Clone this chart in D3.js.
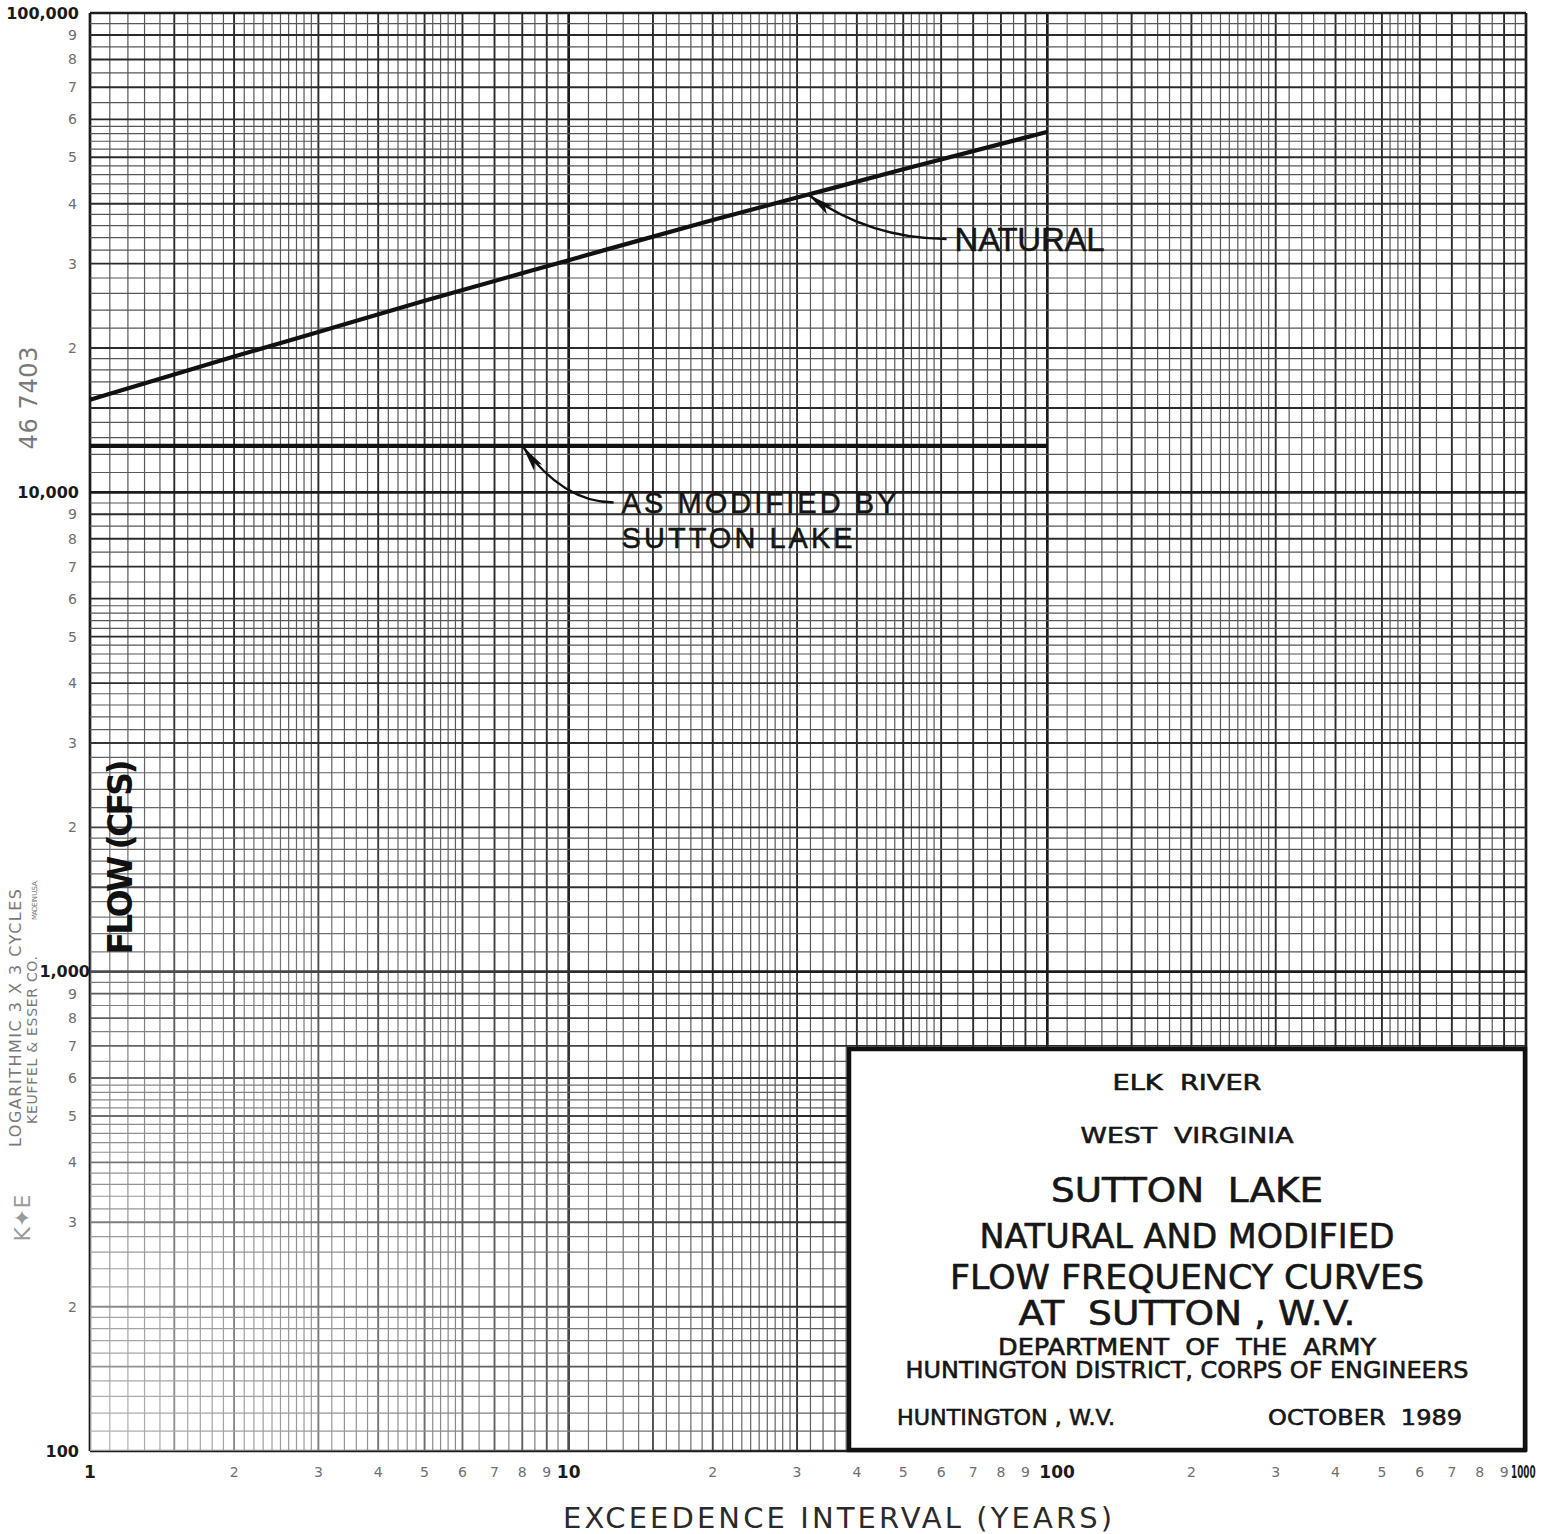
<!DOCTYPE html>
<html>
<head>
<meta charset="utf-8">
<script src="https://cdn.jsdelivr.net/npm/d3@7"></script>
<style>
  body { margin: 0; background: #fff; }
  svg { display: block; }
  text { white-space: pre; }
</style>
</head>
<body>
<svg id="chart" width="1541" height="1534"></svg>
<script>
// Exceedence interval (years) and flow (cfs)
const intervals    = [1, 2, 3, 5, 10, 20, 30, 50, 100];
const naturalFlow  = [15600, 19200, 21600, 25100, 30500, 37000, 41200, 47200, 56500];
const modifiedInterval = [1, 100];
const modifiedFlow     = [12500, 12500];

// Log cycles of the 3 x 3 cycle paper
const xDomain = [1, 1000];
const yDomain = [100, 100000];
// Ruling inside one cycle: [from, to, step]
const xRuling = [[1, 3, 0.1], [3, 6, 0.2], [6, 10, 0.5]];
const yRuling = [[1, 2, 0.1], [2, 6, 0.2], [6, 10, 0.5]];

// Tick labels
const xCycleLabels = ["1", "10", "100", "1000"];
const yCycleLabels = ["100", "1,000", "10,000", "100,000"];
const digitLabels  = ["2", "3", "4", "5", "6", "7", "8", "9"];

// Curve annotations: arrow tip on the curve, label anchor
const annotations = [
  { lines: ["NATURAL"], tip: [31.6, 41800], at: [64, 31900], size: 33, widths: [150] },
  { lines: ["AS MODIFIED BY", "SUTTON LAKE"], tip: [8.0, 12500], at: [12.9, 9060], size: 29, widths: [275, 231] }
];

// Title block text
const titleLines = [
  { text: "ELK  RIVER", size: 22, width: 149, dy: 33 },
  { text: "WEST  VIRGINIA", size: 22, width: 213, dy: 86 },
  { text: "SUTTON  LAKE", size: 33, width: 272, dy: 141 },
  { text: "NATURAL AND MODIFIED", size: 33, width: 415, dy: 187 },
  { text: "FLOW FREQUENCY CURVES", size: 33, width: 474, dy: 228 },
  { text: "AT  SUTTON , W.V.", size: 33, width: 337, dy: 264 },
  { text: "DEPARTMENT  OF  THE  ARMY", size: 23, width: 378, dy: 298 },
  { text: "HUNTINGTON DISTRICT, CORPS OF ENGINEERS", size: 23, width: 563, dy: 321 }
];
const footerLeft  = { text: "HUNTINGTON , W.V.", size: 22, width: 218 };
const footerRight = { text: "OCTOBER  1989", size: 22, width: 194 };

const plot = { left: 90, right: 1526, top: 13, bottom: 1451 };
const x = d3.scaleLog().domain(xDomain).range([plot.left, plot.right]);
const y = d3.scaleLog().domain(yDomain).range([plot.bottom, plot.top]);

const svg = d3.select("#chart");
svg.append("rect").attr("width", 1541).attr("height", 1534).attr("fill", "#fff");

// ---- grid ruling ----
function rulingValues(domain, ruling) {
  const out = [];
  for (let c = domain[0]; c < domain[1] - 1e-9; c *= 10) {
    ruling.forEach(([a, b, s]) => {
      const n = Math.round((b - a) / s);
      for (let i = 0; i < n; i++) {
        const m = +(a + i * s).toFixed(2);
        out.push({ v: c * m, m });
      }
    });
  }
  out.push({ v: domain[1], m: 1 });
  return out;
}
const rank = m => (m === 1 ? "decade" : (Number.isInteger(m) || m === 1.5) ? "major" : "minor");
const gridStyle = {
  minor:  { stroke: "#575757", width: 1.2 },
  major:  { stroke: "#2b2b2b", width: 1.9 },
  decade: { stroke: "#1c1c1c", width: 2.7 }
};
const order = { minor: 0, major: 1, decade: 2 };

const grid = svg.append("g");
const xr = rulingValues(xDomain, xRuling).map(d => ({ ...d, r: rank(d.m) })).sort((a, b) => order[a.r] - order[b.r]);
const yr = rulingValues(yDomain, yRuling).map(d => ({ ...d, r: rank(d.m) })).sort((a, b) => order[a.r] - order[b.r]);

grid.selectAll("line.v").data(xr).join("line")
  .attr("x1", d => x(d.v)).attr("x2", d => x(d.v))
  .attr("y1", plot.top).attr("y2", plot.bottom)
  .attr("stroke", d => gridStyle[d.r].stroke)
  .attr("stroke-width", d => gridStyle[d.r].width);
grid.selectAll("line.h").data(yr).join("line")
  .attr("y1", d => y(d.v)).attr("y2", d => y(d.v))
  .attr("x1", plot.left).attr("x2", plot.right)
  .attr("stroke", d => gridStyle[d.r].stroke)
  .attr("stroke-width", d => gridStyle[d.r].width);

// faded print toward the lower left corner
const defs = svg.append("defs");
const fade = defs.append("radialGradient").attr("id", "fade")
  .attr("cx", 0.0).attr("cy", 1.0).attr("r", 0.55);
fade.append("stop").attr("offset", "0%").attr("stop-color", "#fff").attr("stop-opacity", 0.55);
fade.append("stop").attr("offset", "100%").attr("stop-color", "#fff").attr("stop-opacity", 0);
svg.append("rect").attr("x", plot.left).attr("y", plot.top)
  .attr("width", plot.right - plot.left).attr("height", plot.bottom - plot.top)
  .attr("fill", "url(#fade)");

// ---- curves ----
const curve = d3.line().x(d => x(d[0])).y(d => y(d[1])).curve(d3.curveMonotoneX);
svg.append("path").datum(intervals.map((t, i) => [t, naturalFlow[i]]))
  .attr("d", curve).attr("fill", "none").attr("stroke", "#111").attr("stroke-width", 4.2);
svg.append("path").datum(modifiedInterval.map((t, i) => [t, modifiedFlow[i]]))
  .attr("d", curve).attr("fill", "none").attr("stroke", "#111").attr("stroke-width", 4.2);

// ---- annotations with curved leaders and dart arrowheads ----
annotations.forEach(a => {
  const tx = x(a.tip[0]), ty = y(a.tip[1]);
  const lx = x(a.at[0]), ly = y(a.at[1]);
  const ex = lx - 8, ey = ly - a.size * 0.36;
  const cx = tx + (ex - tx) * 0.45, cy = ey;
  const p = d3.path();
  p.moveTo(tx, ty); p.quadraticCurveTo(cx, cy, ex, ey);
  svg.append("path").attr("d", p.toString()).attr("fill", "none")
    .attr("stroke", "#111").attr("stroke-width", 2.4);
  const ang = Math.atan2(cy - ty, cx - tx);
  const pt = (dist, off) => [tx + dist * Math.cos(ang) - off * Math.sin(ang),
                             ty + dist * Math.sin(ang) + off * Math.cos(ang)];
  svg.append("polygon")
    .attr("points", [pt(0, 0), pt(27, 5), pt(21, 0), pt(27, -5)].map(q => q.join(",")).join(" "))
    .attr("fill", "#111");
  a.lines.forEach((s, i) => {
    svg.append("text").attr("x", lx).attr("y", ly + i * a.size * 1.22)
      .attr("font-family", "Liberation Sans, Arial, sans-serif")
      .attr("font-size", a.size).attr("fill", "#151515")
      .attr("stroke", "#151515").attr("stroke-width", 0.5)
      .attr("textLength", a.widths[i]).attr("lengthAdjust", "spacing")
      .text(s);
  });
});

// ---- title block ----
const box = { x0: 849, x1: plot.right - 1, y0: 1049, y1: plot.bottom - 1 };
svg.append("rect").attr("x", box.x0).attr("y", box.y0)
  .attr("width", box.x1 - box.x0).attr("height", box.y1 - box.y0)
  .attr("fill", "#fff").attr("stroke", "#111").attr("stroke-width", 4.5);
const bcx = (box.x0 + box.x1) / 2;
const boxFont = "DejaVu Sans, Verdana, sans-serif";
titleLines.forEach(t => {
  svg.append("text").attr("x", bcx).attr("y", box.y0 + t.dy + t.size * 0.36)
    .attr("text-anchor", "middle").attr("font-family", boxFont)
    .attr("font-size", t.size).attr("fill", "#161616")
    .attr("stroke", "#161616").attr("stroke-width", 0.6)
    .attr("textLength", t.width).attr("lengthAdjust", "spacingAndGlyphs")
    .text(t.text);
});
[[footerLeft, 897], [footerRight, 1268]].forEach(([t, fx]) => {
  svg.append("text").attr("x", fx).attr("y", 1417 + t.size * 0.36)
    .attr("font-family", boxFont).attr("font-size", t.size).attr("fill", "#161616")
    .attr("stroke", "#161616").attr("stroke-width", 0.6)
    .attr("textLength", t.width).attr("lengthAdjust", "spacingAndGlyphs")
    .text(t.text);
});

// ---- axis labels ----
const labelFont = "DejaVu Sans, Verdana, sans-serif";
const yLab = svg.append("g").attr("font-family", labelFont).attr("text-anchor", "end");
yCycleLabels.forEach((s, i) => {
  const v = yDomain[0] * Math.pow(10, i);
  yLab.append("text").attr("x", s === "1,000" ? 90 : 79).attr("y", y(v)).attr("dy", "0.36em")
    .attr("font-size", 16).attr("font-weight", "bold").attr("fill", "#1a1a1a").text(s);
  if (i < 3) digitLabels.forEach(dg => {
    yLab.append("text").attr("x", 77).attr("y", y(v * +dg)).attr("dy", "0.36em")
      .attr("font-size", 14).attr("fill", "#6e6e6e").text(dg);
  });
});
const xLab = svg.append("g").attr("font-family", labelFont);
xCycleLabels.forEach((s, i) => {
  const v = xDomain[0] * Math.pow(10, i);
  const last = i === xCycleLabels.length - 1;
  const t = xLab.append("text").attr("dy", "0.36em")
    .attr("font-size", 17).attr("font-weight", "bold").attr("fill", "#1a1a1a").text(s);
  if (last) {
    // the last cycle label sits at the sheet edge, so it is set condensed
    t.attr("transform", "translate(1511,1472) scale(0.52,1)");
  } else {
    t.attr("y", 1472);
    if (i < 2) t.attr("x", x(v)).attr("text-anchor", "middle");
    else t.attr("x", x(v) - 8).attr("text-anchor", "start");
  }
  if (i < 3) digitLabels.forEach(dg => {
    xLab.append("text").attr("x", x(v * +dg)).attr("y", 1472).attr("dy", "0.36em")
      .attr("text-anchor", "middle").attr("font-size", 14).attr("fill", "#6e6e6e").text(dg);
  });
});

// axis titles
svg.append("text").attr("x", (563 + 1112) / 2).attr("y", 1518).attr("dy", "0.36em")
  .attr("text-anchor", "middle").attr("font-family", labelFont)
  .attr("font-size", 29).attr("fill", "#2a2a2a")
  .attr("textLength", 549).attr("lengthAdjust", "spacing")
  .text("EXCEEDENCE INTERVAL (YEARS)");
svg.append("text").attr("transform", "translate(120,857) rotate(-90)")
  .attr("dy", "0.36em").attr("text-anchor", "middle")
  .attr("font-family", labelFont).attr("font-size", 33).attr("font-weight", "bold")
  .attr("fill", "#111").attr("textLength", 195).attr("lengthAdjust", "spacing")
  .text("FLOW (CFS)");

// paper imprint in the left margin
const margin = svg.append("g").attr("font-family", labelFont).attr("fill", "#7a7a7a").attr("text-anchor", "middle");
margin.append("text").attr("transform", "translate(28,398) rotate(-90)").attr("dy", "0.36em")
  .attr("font-size", 24).attr("textLength", 103).text("46 7403");
margin.append("text").attr("transform", "translate(15,1018) rotate(-90)").attr("dy", "0.36em")
  .attr("font-size", 16).attr("textLength", 258).attr("lengthAdjust", "spacing").text("LOGARITHMIC 3 X 3 CYCLES");
margin.append("text").attr("transform", "translate(32,1040) rotate(-90)").attr("dy", "0.36em")
  .attr("font-size", 14).attr("textLength", 168).attr("lengthAdjust", "spacing").text("KEUFFEL & ESSER CO.");
margin.append("text").attr("transform", "translate(34,900) rotate(-90)").attr("dy", "0.36em")
  .attr("font-size", 7).attr("textLength", 40).text("MADE IN U.S.A.");
margin.append("text").attr("transform", "translate(22,1218) rotate(-90)").attr("dy", "0.36em")
  .attr("font-size", 22).attr("fill", "#9a9a9a").text("K\u2726E");
</script>
</body>
</html>
